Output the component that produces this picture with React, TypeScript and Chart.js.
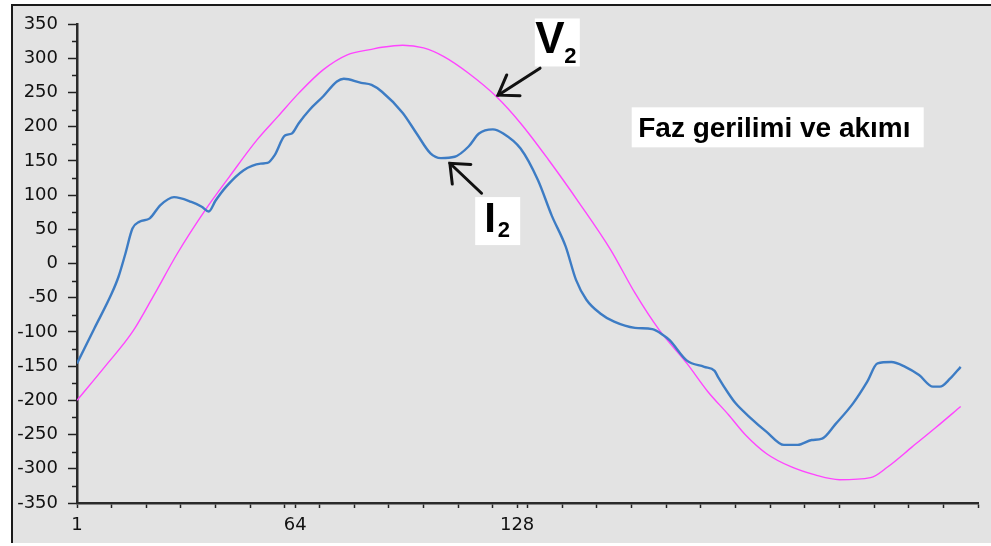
import React, { useEffect, useRef } from "react";
import { Chart, registerables } from "chart.js";

Chart.register(...registerables);

// ---- data (sample index, value) ----
const i2Index = [1, 6, 11, 13, 15, 17, 19, 22, 25, 29, 34, 37, 39, 41, 44, 49, 54, 56, 58, 61, 63, 65, 68, 72, 76, 78, 83, 86, 89, 95, 99, 103, 106, 110, 114, 117, 121, 124, 129, 134, 138, 142, 145, 148, 152, 156, 162, 167, 170, 172, 177, 182, 185, 186, 189, 191, 195, 200, 205, 209, 213, 216, 220, 225, 229, 232, 236, 240, 244, 248, 250, 253, 256];
const i2Values = [-146, -95, -44, -19, 15, 51, 61, 66, 85, 97, 90, 83, 76, 92, 112, 136, 146, 147, 158, 187, 190, 205, 224, 244, 266, 270, 264, 261, 251, 220, 190, 161, 154, 156, 171, 190, 196, 190, 168, 122, 70, 25, -24, -53, -73, -85, -94, -96, -104, -112, -142, -151, -157, -166, -190, -204, -224, -246, -265, -265, -258, -256, -234, -204, -173, -146, -144, -151, -163, -180, -180, -168, -151];

const v2Index = [1, 9, 17, 23, 30, 38, 45, 53, 59, 65, 72, 79, 86, 89, 95, 101, 107, 114, 122, 129, 137, 146, 155, 162, 169, 177, 183, 189, 194, 200, 207, 214, 221, 230, 235, 242, 249, 256];
const v2Values = [-200, -151, -100, -48, 15, 78, 127, 181, 215, 249, 283, 305, 313, 316, 319, 315, 302, 278, 244, 205, 152, 88, 20, -43, -97, -146, -187, -221, -251, -278, -297, -309, -316, -313, -297, -268, -239, -209];

const xLabelTicks = [1, 64, 128];
const xMinorTicks = [1, 11, 21, 31, 41, 51, 61, 71, 81, 91, 101, 111, 121, 131, 141, 151, 161, 171, 181, 191, 201, 211, 221, 231, 241, 251, 261];
const yMinorTicks = [-325, -275, -225, -175, -125, -75, -25, 25, 75, 125, 175, 225, 275, 325];

const titleText = "Faz gerilimi ve akımı";
const v2Name = "V";
const i2Name = "I";
const subscript = "2";

// annotation anchors in data coordinates
const v2LabelAt = { x: 139.6, y: 323 };
const v2ArrowTip = { x: 122.5, y: 246 };
const i2LabelAt = { x: 122.4, y: 62 };
const i2ArrowTip = { x: 108.6, y: 146.5 };
const titleAt = { x: 203.2, y: 199 };

const backgroundPlugin = {
  id: "bgframe",
  beforeDraw(chart: any) {
    const { ctx, width, height } = chart;
    ctx.save();
    ctx.fillStyle = "#ffffff";
    ctx.fillRect(0, 0, width, height);
    ctx.fillStyle = "#e3e3e3";
    ctx.fillRect(13, 6, width - 13, height - 9);
    ctx.fillStyle = "#1a1a1a";
    ctx.fillRect(11, 4, width - 11, 2);
    ctx.fillRect(11, 4, 2, height - 7);
    ctx.restore();
  },
};

function drawArrow(ctx: CanvasRenderingContext2D, tx: number, ty: number, dx: number, dy: number, len: number, spread: number) {
  ctx.beginPath();
  ctx.moveTo(tx + dx, ty + dy);
  ctx.lineTo(tx, ty);
  ctx.stroke();
  const ang = Math.atan2(dy, dx);
  const s = (spread * Math.PI) / 180;
  ctx.beginPath();
  ctx.moveTo(tx + len * Math.cos(ang - s), ty + len * Math.sin(ang - s));
  ctx.lineTo(tx, ty);
  ctx.lineTo(tx + len * Math.cos(ang + s), ty + len * Math.sin(ang + s));
  ctx.stroke();
}

const annotationPlugin = {
  id: "annots",
  afterDraw(chart: any) {
    const { ctx, scales } = chart;
    const xs = scales.x;
    const ys = scales.y;
    const px = (p: { x: number; y: number }) => [xs.getPixelForValue(p.x), ys.getPixelForValue(p.y)];
    ctx.save();

    // minor y ticks
    ctx.strokeStyle = "#222";
    ctx.lineWidth = 1.5;
    const left = chart.chartArea.left;
    yMinorTicks.forEach((v) => {
      const y = Math.round(ys.getPixelForValue(v)) + 0.5;
      ctx.beginPath();
      ctx.moveTo(left - 5, y);
      ctx.lineTo(left, y);
      ctx.stroke();
    });

    // V2 label
    let [cx, cy] = px(v2LabelAt);
    ctx.fillStyle = "#ffffff";
    ctx.fillRect(cx - 22.5, cy - 24, 45, 48);
    ctx.fillStyle = "#000";
    ctx.textBaseline = "alphabetic";
    ctx.textAlign = "left";
    ctx.font = "bold 44px 'Liberation Sans'";
    ctx.fillText(v2Name, cx - 22, cy + 11);
    ctx.font = "bold 22px 'Liberation Sans'";
    ctx.fillText(subscript, cx + 7, cy + 21);

    // I2 label
    [cx, cy] = px(i2LabelAt);
    ctx.fillStyle = "#ffffff";
    ctx.fillRect(cx - 22.5, cy - 24, 45, 48);
    ctx.fillStyle = "#000";
    ctx.font = "bold 42px 'Liberation Sans'";
    ctx.fillText(i2Name, cx - 13.5, cy + 10.7);
    ctx.font = "bold 22px 'Liberation Sans'";
    ctx.fillText(subscript, cx + 0, cy + 16);

    // title box
    [cx, cy] = px(titleAt);
    ctx.fillStyle = "#ffffff";
    ctx.fillRect(cx - 146, cy - 20, 292, 40);
    ctx.fillStyle = "#000";
    ctx.font = "bold 28px 'Liberation Sans'";
    ctx.fillText(titleText, cx - 139.5, cy + 9.5);

    // arrows
    ctx.strokeStyle = "#111";
    ctx.lineWidth = 3;
    ctx.lineCap = "round";
    let [tx, ty] = px(v2ArrowTip);
    drawArrow(ctx, tx, ty, 42, -27, 22, 34);
    [tx, ty] = px(i2ArrowTip);
    drawArrow(ctx, tx, ty, 31.7, 30, 21, 40);

    ctx.restore();
  },
};

export default function App() {
  const ref = useRef<HTMLCanvasElement>(null);

  useEffect(() => {
    document.body.style.margin = "0";
    const canvas = ref.current;
    if (!canvas) return;
    const tickFont = { family: "'DejaVu Sans'", size: 18 };
    const chart = new Chart(canvas, {
      type: "line",
      data: {
        datasets: [
          {
            label: "I2",
            data: i2Index.map((x, i) => ({ x, y: i2Values[i] })),
            borderColor: "#3d7cc4",
            borderWidth: 2.4,
            pointRadius: 0,
            cubicInterpolationMode: "monotone",
            fill: false,
          },
          {
            label: "V2",
            data: v2Index.map((x, i) => ({ x, y: v2Values[i] })),
            borderColor: "#ff45ff",
            borderWidth: 1.4,
            pointRadius: 0,
            cubicInterpolationMode: "monotone",
            fill: false,
          },
        ],
      },
      options: {
        responsive: false,
        animation: false,
        layout: { padding: { top: 24, right: 13, left: 0, bottom: 0 } },
        plugins: { legend: { display: false }, tooltip: { enabled: false } },
        scales: {
          x: {
            type: "linear",
            min: 1,
            max: 261,
            afterBuildTicks: (scale: any) => {
              const vals = Array.from(new Set([...xMinorTicks, ...xLabelTicks])).sort((a, b) => a - b);
              scale.ticks = vals.map((value) => ({ value }));
            },
            afterFit: (scale: any) => {
              scale.height = 43;
            },
            grid: { drawOnChartArea: false, drawTicks: true, tickLength: 5, tickColor: "#222", tickWidth: 1.5 },
            border: { color: "#2a2a2a", width: 2.5 },
            ticks: {
              autoSkip: false,
              maxRotation: 0,
              padding: 7,
              color: "#111",
              font: tickFont,
              callback: (v: any) => (xLabelTicks.includes(Number(v)) ? String(v) : ""),
            },
          },
          y: {
            min: -350,
            max: 350,
            afterFit: (scale: any) => {
              scale.width = 77;
            },
            grid: { drawOnChartArea: false, drawTicks: true, tickLength: 9, tickColor: "#222", tickWidth: 1.5 },
            border: { color: "#2a2a2a", width: 2.5 },
            ticks: {
              stepSize: 50,
              autoSkip: false,
              padding: 10,
              color: "#111",
              font: tickFont,
              callback: (v: any) => String(v),
            },
          },
        },
      },
      plugins: [backgroundPlugin, annotationPlugin],
    } as any);
    return () => chart.destroy();
  }, []);

  return <canvas ref={ref} width={991} height={546} style={{ display: "block" }} />;
}
